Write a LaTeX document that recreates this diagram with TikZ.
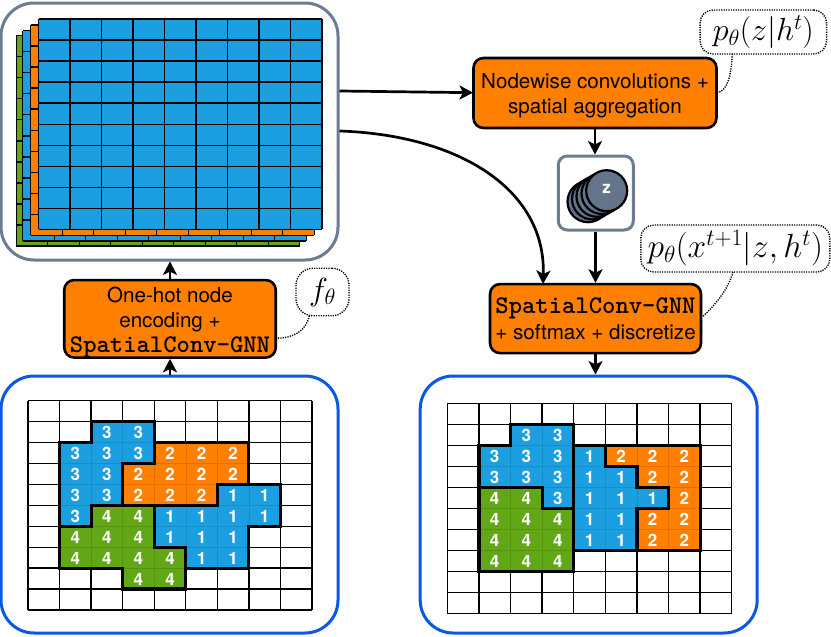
\documentclass[tikz,border=0pt]{standalone}
\usepackage{fix-cm}
\usepackage{fontspec}
\setsansfont{TeX Gyre Heros}
\usetikzlibrary{arrows.meta}
\definecolor{cellblue}{HTML}{1C9FE0}
\definecolor{cellorange}{HTML}{FF8000}
\definecolor{cellgreen}{HTML}{62A716}
\definecolor{slateframe}{HTML}{6B7C93}
\definecolor{slatefill}{HTML}{64748B}
\definecolor{blueframe}{HTML}{0B57E6}
\tikzset{
  panel/.style={draw=#1,line width=3pt,rounded corners=33pt,fill=white,inner sep=0pt,minimum width=337pt,minimum height=257pt},
  opbox/.style={draw=black,fill=cellorange,line width=2.6pt,rounded corners=10pt,align=center,inner sep=0pt,
    font=\sffamily\fontsize{20.6}{25}\selectfont},
  bubble/.style={draw=black,line width=1.4pt,dash pattern=on 1.2pt off 1.2pt,rounded corners=13pt,fill=white,inner sep=0pt,
    font=\fontsize{32}{36}\selectfont},
  dotlink/.style={draw=black,line width=1.4pt,dash pattern=on 1.2pt off 1.2pt},
  flow/.style={draw=black,line width=2.7pt,-{Stealth[length=13.5pt,width=14pt,inset=3.5pt]}},
  cellnum/.style={text=white,inner sep=0pt,font=\sffamily\bfseries\fontsize{17}{17}\selectfont},
  gridline/.style={draw=black,line width=1.3pt},
  region/.style={draw=black,line width=3.2pt,miter limit=10},
}
% monospaced operator name
\newcommand{\opname}{{\ttfamily\bfseries\fontsize{25.4}{25}\selectfont SpatialConv-GNN}}
% cells of one label: colour, label, list of row/first/last column
\newcommand{\labelcells}[4]{%
  \foreach \r/\a/\b in {#4}{\foreach \c in {\a,...,\b}{%
    \fill[#2,draw=#2!88!black,line width=0.5pt] (\c,\r) rectangle +(1,1);
    \node[cellnum] (#1-#3-\r-\c) at (\c+0.5,\r+0.52) {#3};
  }}}
% nine by ten lattice
\newcommand{\lattice}{%
  \foreach \c in {0,...,9}{\draw[gridline] (\c,0) -- (\c,10);}
  \foreach \r in {0,...,10}{\draw[gridline] (0,\r) -- (9,\r);}}
\begin{document}
\begin{tikzpicture}[x=1pt,y=-1pt]
\useasboundingbox (0,0) rectangle (831,637);
\fill[white] (0,0) rectangle (831,637);

% hidden state stack
\node[panel=slateframe] (stack) at (169.5,131.5) {};
\foreach \dx/\dy/\col in {16.3/35.7/cellgreen,22.7/30.7/cellblue,30.7/25/cellorange,38.5/19/cellblue}{
  \begin{scope}[shift={(\dx,\dy)},x=31.5pt,y=-21.03pt]
    \fill[\col] (0,0) rectangle (9,10);
    \lattice
  \end{scope}
}

% input partition
\node[panel=blueframe] (inframe) at (169.5,504.5) {};
\begin{scope}[shift={(28,400.7)},x=31.55pt,y=-20.93pt]
  \lattice
  \labelcells{in}{cellblue}{3}{1/2/3,2/1/3,3/1/2,4/1/2,5/1/1}
  \labelcells{in}{cellorange}{2}{2/4/6,3/3/6,4/3/5}
  \labelcells{in}{cellblue}{1}{4/6/7,5/4/7,6/4/6,7/5/6}
  \labelcells{in}{cellgreen}{4}{5/2/3,6/1/3,7/1/4,8/3/4}
  \draw[region] (2,1)--(4,1)--(4,3)--(3,3)--(3,5)--(2,5)--(2,6)--(1,6)--(1,2)--(2,2)--cycle;
  \draw[region] (4,2)--(7,2)--(7,4)--(6,4)--(6,5)--(3,5)--(3,3)--(4,3)--cycle;
  \draw[region] (6,4)--(8,4)--(8,6)--(7,6)--(7,8)--(5,8)--(5,7)--(4,7)--(4,5)--(6,5)--cycle;
  \draw[region] (2,5)--(4,5)--(4,7)--(5,7)--(5,9)--(3,9)--(3,8)--(1,8)--(1,6)--(2,6)--cycle;
\end{scope}

% output partition
\node[panel=blueframe] (outframe) at (588.7,504.5) {};
\begin{scope}[shift={(447.3,403.3)},x=31.6pt,y=-21pt]
  \lattice
  \labelcells{out}{cellblue}{3}{1/2/3,2/1/3,3/1/3,4/3/3}
  \labelcells{out}{cellblue}{1}{2/4/4,3/4/5,4/4/6,5/4/5,6/4/5}
  \labelcells{out}{cellorange}{2}{2/5/7,3/6/7,4/7/7,5/6/7,6/6/7}
  \labelcells{out}{cellgreen}{4}{4/1/2,5/1/3,6/1/3,7/1/3}
  \draw[region] (2,1)--(4,1)--(4,5)--(3,5)--(3,4)--(1,4)--(1,2)--(2,2)--cycle;
  \draw[region] (1,4)--(3,4)--(3,5)--(4,5)--(4,8)--(1,8)--cycle;
  \draw[region] (4,2)--(5,2)--(5,3)--(6,3)--(6,4)--(7,4)--(7,5)--(6,5)--(6,7)--(4,7)--cycle;
  \draw[region] (5,2)--(8,2)--(8,7)--(6,7)--(6,5)--(7,5)--(7,4)--(6,4)--(6,3)--(5,3)--cycle;
\end{scope}

% operations
\node[opbox,minimum width=243pt,minimum height=70pt] (nodewise) at (595,93) {\rule{0pt}{21pt}Nodewise convolutions +\\spatial aggregation};
\node[opbox,minimum width=211pt,minimum height=69pt] (decoder) at (595.5,318.6) {\opname\\[1pt]+ softmax + discretize};
\node[opbox,minimum width=211.5pt,minimum height=77.5pt] (encoder) at (170,318.8) {\rule{0pt}{22pt}One-hot node\\encoding +\\\opname};

% latent stack
\node[draw=slateframe,fill=white,line width=3pt,rounded corners=9pt,minimum width=75pt,minimum height=74pt,inner sep=0pt] (latent) at (595.8,193) {};
\foreach \i/\cx/\cy in {1/588/201.7,2/592.5/199,3/597/196.3,4/602/193.5,5/606.7/190.7}{
  \node[circle,draw=black,fill=slatefill,line width=2.2pt,minimum size=41pt,inner sep=0pt] (disc\i) at (\cx,\cy) {};
}
\node[text=white,inner sep=0pt,font=\sffamily\bfseries\fontsize{17}{17}\selectfont] (zlabel) at (606.7,189) {z};

% annotations
\node[bubble,minimum width=126.5pt,minimum height=44pt] (pz) at (763.3,32) {$p_\theta(z|h^t)$};
\node[bubble,font=\fontsize{33.5}{36}\selectfont,minimum width=189pt,minimum height=47pt] (px) at (735.3,248.5) {$p_\theta(x^{t+1}|z,h^t)$};
\node[bubble,rounded corners=17pt,minimum width=53pt,minimum height=47.5pt] (ftheta) at (322.5,292) {$f_\theta$};

% connector end points on the rounded frames and bubbles
\coordinate (stackA) at (339.5,91);
\coordinate (stackB) at (339.5,131);
\coordinate (decoderIn) at (543,284);
\coordinate (nodewiseIn) at (473,92.7);
\coordinate (pzFoot) at (732.3,54);
\coordinate (pzTip) at (718,92.7);
\coordinate (pxFoot) at (733,272);
\coordinate (pxTip) at (702.7,316.7);
\coordinate (fFoot) at (309.3,315.7);
\coordinate (fTip) at (276.7,338.3);

% data flow
\draw[flow] (stackA) -- (nodewiseIn);
\draw[flow] (stackB) .. controls (460,135) and (546,190) .. (decoderIn);
\draw[flow] (nodewise.south) -- (latent.north -| nodewise.south);
\draw[flow] (latent.south -| decoder.north) -- (decoder.north);
\draw[flow] (decoder.south) -- (decoder.south |- outframe.north);
\draw[flow] (inframe.north -| encoder.south) -- (encoder.south);
\draw[flow] (encoder.north) -- (encoder.north |- stack.south);

% annotation leaders
\draw[dotlink] (pzFoot) .. controls (731,78) and (727,90) .. (pzTip);
\draw[dotlink] (pxFoot) .. controls (728,290) and (715,305) .. (pxTip);
\draw[dotlink] (fFoot) .. controls (306,332) and (292,338) .. (fTip);
\end{tikzpicture}
\end{document}
